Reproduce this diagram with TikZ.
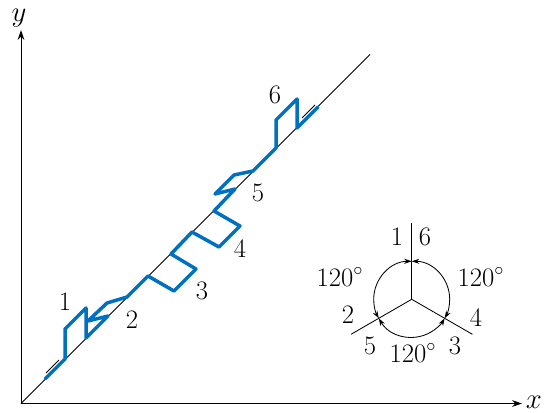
\documentclass[tikz,border=0pt]{standalone}
\usepackage{tikz}
\usetikzlibrary{calc, arrows.meta}

\definecolor{phaseblue}{RGB}{0,112,192}

\begin{document}
\begin{tikzpicture}[
    x=0.6pt, y=-0.6pt,
    axis/.style={draw=black, line width=0.6pt, -{Stealth[length=6pt, width=4pt]}},
    guide/.style={draw=black, line width=0.5pt},
    winding/.style={draw=phaseblue, line width=2.1pt, line join=round, line cap=round},
    angle arc/.style={draw=black, line width=0.5pt, {Stealth[length=4.5pt, width=3pt]}-{Stealth[length=4.5pt, width=3pt]}},
    num/.style={font=\fontsize{16}{19}\selectfont, inner sep=0pt}
]

\useasboundingbox (0,0) rectangle (546,412);

% --- Axes ---
\coordinate (O) at (21,403.5);
\coordinate (ytip) at (21,30);
\coordinate (xtip) at (522,403.5);
\draw[axis] (O) -- (ytip);
\draw[axis] (O) -- (xtip);
\node[num] (ylab) at (19,18) {$y$};
\node[num] (xlab) at (534,402) {$x$};

% --- Diagonal and end marks ---
\coordinate (dend) at (370,54.5);
\draw[guide] (O) -- (dend);
\coordinate (m1a) at (46,373);
\coordinate (m1b) at (59,360);
\coordinate (m2a) at (302,118);
\coordinate (m2b) at (315,105);
\draw[guide] (m1a) -- (m1b);
\draw[guide] (m2a) -- (m2b);

% --- Winding path ---
\foreach \n/\x/\y in {s/45/379, a1/65/359, a2/65/329, a3/86/308, a4/86/338,
    b1/108/316, b2/88/321, b3/107/303, b4/127/297,
    c1/148/276, c2/174/291, c3/196/269, c4/171/254,
    d1/192/232, d2/219/247, d3/240/226, d4/214/211,
    e1/235/189, e2/215/194, e3/234/175, e4/253/171,
    f1/276/148, f2/276/120, f3/297/99, f4/297/128, t/318/107}
    \coordinate (\n) at (\x,\y);
\draw[winding] (s) -- (a1) -- (a2) -- (a3) -- (a4) -- (b1) -- (b2) -- (b3) -- (b4)
    -- (c1) -- (c2) -- (c3) -- (c4) -- (d1) -- (d2) -- (d3) -- (d4)
    -- (e1) -- (e2) -- (e3) -- (e4) -- (f1) -- (f2) -- (f3) -- (f4) -- (t);

% --- Winding numbers ---
\foreach \i/\x/\y in {1/65/302, 2/132/320, 3/202/291, 4/240/249, 5/258/193, 6/275/95}
    \node[num] (w\i) at (\x,\y) {\i};

% --- Phase star ---
\coordinate (c) at (411.7,299.3);
\coordinate (up) at (411.7,223);
\coordinate (ll) at (351,334.3);
\coordinate (lr) at (472.4,334.3);
\draw[guide] (c) -- (up);
\draw[guide] (c) -- (ll);
\draw[guide] (c) -- (lr);

\coordinate (q90) at (411.7,261.3);
\coordinate (q210) at (378.8,318.3);
\coordinate (q330) at (444.6,318.3);
\draw[angle arc] (q90) arc[start angle=-90, end angle=-210, radius=38];
\draw[angle arc] (q90) arc[start angle=-90, end angle=30, radius=38];
\draw[angle arc] (q210) arc[start angle=150, end angle=30, radius=38];

\foreach \i/\x/\y in {1/397/237, 6/425/237, 2/348/315, 4/476/318, 5/370/346, 3/455/346}
    \node[num] (p\i) at (\x,\y) {\i};
\node[num] (ang1) at (340,277) {120$^\circ$};
\node[num] (ang2) at (481,277) {120$^\circ$};
\node[num] (ang3) at (413,353) {120$^\circ$};

\end{tikzpicture}
\end{document}
